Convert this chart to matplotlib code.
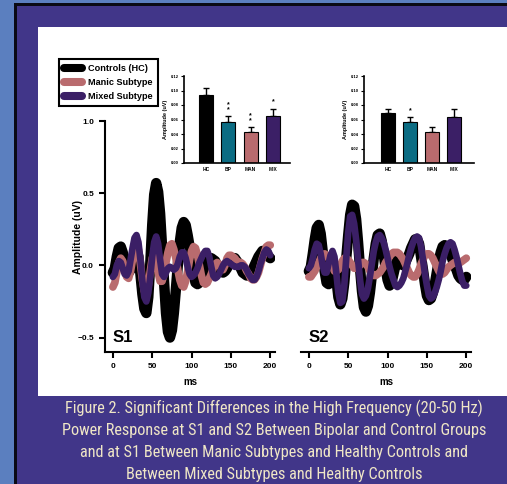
import numpy as np
import matplotlib
matplotlib.use("Agg")
import matplotlib.pyplot as plt
from matplotlib.patches import Rectangle
from matplotlib.lines import Line2D

plt.rcParams['font.family'] = ['Liberation Sans', 'DejaVu Sans']
plt.rcParams['font.weight'] = 'bold'
plt.rcParams['axes.labelweight'] = 'bold'

# waveform data (2.5 ms steps, 0..200 ms)
t_ms = np.arange(0, 200.1, 2.5)

s1_controls = [-0.05, -0.02, 0.06, 0.12, 0.13, 0.09, 0.03, -0.03, -0.05, -0.03,
               0.03, 0.08, 0.10, 0.06, -0.06, -0.20, -0.30, -0.33, -0.22, 0.01,
               0.28, 0.49, 0.57, 0.51, 0.36, 0.13, -0.11, -0.33, -0.46, -0.50,
               -0.45, -0.33, -0.17, 0.0, 0.16, 0.26, 0.30, 0.28, 0.21, 0.13,
               0.03, -0.06, -0.12, -0.13, -0.12, -0.09, -0.06, -0.02, 0.02, 0.04,
               0.05, 0.04, 0.03, 0.0, -0.03, -0.04, -0.05, -0.04, -0.02, 0.01,
               0.04, 0.05, 0.05, 0.03, 0.01, -0.02, -0.05, -0.06, -0.07, -0.07,
               -0.05, -0.03, 0.0, 0.03, 0.06, 0.08, 0.10, 0.10, 0.09, 0.06,
               0.05]
s1_manic = [-0.15, -0.12, -0.05, 0.02, 0.05, 0.03, -0.03, -0.08, -0.09, -0.04,
            0.04, 0.11, 0.14, 0.11, 0.01, -0.10, -0.18, -0.20, -0.14, -0.04,
            0.05, 0.08, 0.03, -0.05, -0.11, -0.11, -0.06, 0.02, 0.09, 0.14,
            0.15, 0.11, 0.05, -0.03, -0.10, -0.14, -0.15, -0.11, -0.04, 0.04,
            0.10, 0.13, 0.12, 0.07, 0.0, -0.07, -0.12, -0.13, -0.12, -0.09,
            -0.06, -0.02, 0.01, 0.02, 0.01, -0.02, -0.03, 0.0, 0.05, 0.07,
            0.07, 0.06, 0.05, 0.03, 0.02, 0.02, 0.01, -0.01, -0.04, -0.06,
            -0.09, -0.10, -0.10, -0.08, -0.05, 0.0, 0.05, 0.09, 0.13, 0.14,
            0.14]
s1_mixed = [-0.08, -0.06, 0.0, 0.03, 0.02, -0.02, -0.06, -0.07, -0.04, 0.04,
            0.12, 0.19, 0.21, 0.16, 0.04, -0.11, -0.22, -0.25, -0.19, -0.08,
            0.06, 0.16, 0.20, 0.15, 0.04, -0.06, -0.08, -0.05, -0.02, -0.01,
            -0.02, -0.03, -0.02, 0.01, 0.06, 0.09, 0.09, 0.05, -0.01, -0.06,
            -0.08, -0.07, -0.05, -0.02, 0.02, 0.05, 0.08, 0.10, 0.10, 0.06,
            -0.01, -0.07, -0.09, -0.08, -0.06, -0.03, 0.0, 0.02, 0.03, 0.02,
            0.01, 0.0, -0.01, -0.01, -0.01, 0.0, 0.0, -0.01, -0.03, -0.06,
            -0.08, -0.10, -0.10, -0.08, -0.04, 0.01, 0.05, 0.09, 0.11, 0.10,
            0.07]

s2_controls = [-0.04, -0.01, 0.08, 0.18, 0.26, 0.28, 0.22, 0.10, -0.04, -0.12,
               -0.13, -0.06, 0.01, 0.0, -0.10, -0.22, -0.27, -0.23, -0.12, 0.05,
               0.21, 0.35, 0.42, 0.41, 0.32, 0.16, -0.02, -0.18, -0.29, -0.32,
               -0.28, -0.19, -0.07, 0.05, 0.15, 0.21, 0.22, 0.17, 0.08, -0.02,
               -0.10, -0.14, -0.12, -0.06, 0.0, 0.04, 0.03, 0.01, 0.0, 0.02,
               0.05, 0.08, 0.12, 0.15, 0.18, 0.18, 0.15, 0.06, -0.03, -0.13,
               -0.21, -0.24, -0.23, -0.19, -0.13, -0.05, 0.03, 0.09, 0.13, 0.14,
               0.13, 0.11, 0.08, 0.04, 0.0, -0.03, -0.07, -0.09, -0.10, -0.10,
               -0.08]
s2_manic = [-0.08, -0.08, -0.06, -0.04, -0.01, 0.02, 0.05, 0.07, 0.08, 0.07,
            0.05, 0.02, -0.01, -0.04, -0.04, -0.03, 0.0, 0.03, 0.05, 0.05,
            0.04, 0.02, 0.0, -0.02, -0.02, -0.01, 0.0, 0.02, 0.02, 0.01,
            -0.01, -0.04, -0.06, -0.07, -0.07, -0.06, -0.05, -0.03, -0.01, 0.02,
            0.04, 0.06, 0.08, 0.09, 0.09, 0.09, 0.08, 0.06, 0.04, 0.01,
            -0.02, -0.05, -0.07, -0.08, -0.08, -0.06, -0.03, 0.01, 0.04, 0.07,
            0.08, 0.08, 0.07, 0.05, 0.02, -0.01, -0.04, -0.06, -0.06, -0.05,
            -0.03, -0.01, 0.0, 0.01, 0.02, 0.02, 0.02, 0.02, 0.03, 0.04,
            0.05]
s2_mixed = [-0.02, 0.0, 0.05, 0.11, 0.15, 0.14, 0.08, 0.0, -0.05, -0.05,
            0.01, 0.07, 0.10, 0.06, -0.06, -0.19, -0.26, -0.25, -0.14, 0.05,
            0.23, 0.34, 0.35, 0.29, 0.18, 0.04, -0.10, -0.20, -0.23, -0.21,
            -0.16, -0.08, 0.01, 0.10, 0.16, 0.20, 0.21, 0.19, 0.16, 0.11,
            0.05, -0.01, -0.06, -0.10, -0.14, -0.15, -0.14, -0.12, -0.09, -0.04,
            0.01, 0.07, 0.12, 0.16, 0.19, 0.20, 0.19, 0.13, 0.04, -0.06,
            -0.14, -0.21, -0.23, -0.22, -0.19, -0.15, -0.10, -0.04, 0.03, 0.08,
            0.12, 0.15, 0.16, 0.15, 0.11, 0.06, 0.0, -0.06, -0.11, -0.14,
            -0.14]

# bar insets
groups = ['HC', 'BP', 'MAN', 'MIX']
s1_bar = [0.094, 0.057, 0.043, 0.065]
s1_err = [0.009, 0.008, 0.007, 0.010]
s1_stars = ['', '*\n*', '*\n*', '*']
s2_bar = [0.069, 0.056, 0.043, 0.063]
s2_err = [0.006, 0.007, 0.007, 0.011]
s2_stars = ['', '*', '', '']

legend_labels = ['Controls (HC)', 'Manic Subtype', 'Mixed Subtype']

caption = ['Figure 2. Significant Differences in the High Frequency (20-50 Hz)',
           'Power Response at S1 and S2 Between Bipolar and Control Groups',
           'and at S1 Between Manic Subtypes and Healthy Controls and',
           'Between Mixed Subtypes and Healthy Controls']

black = '#000000'
pink = '#b96b6e'
purple = '#3b1f66'
teal = '#0b6c83'
bar_colors = [black, teal, pink, purple]

W, H = 507, 484
fig = plt.figure(figsize=(W / 100, H / 100), dpi=100)
fig.patch.set_facecolor('#5b7fbf')


def px_rect(x0, y0, x1, y1, color):
    # rectangle given in pixel coords from top-left
    r = Rectangle((x0 / W, 1 - y1 / H), (x1 - x0) / W, (y1 - y0) / H,
                  transform=fig.transFigure, facecolor=color, edgecolor='none', zorder=-10)
    fig.add_artist(r)


px_rect(14, 3, W, H, '#0a0a14')
px_rect(17, 6, W, H, '#413689')
px_rect(38, 27, W, 396, '#ffffff')


def px_axes(x0, y0, x1, y1):
    return fig.add_axes([x0 / W, 1 - y1 / H, (x1 - x0) / W, (y1 - y0) / H])


def wave_axes(ax, ctrl, manic, mixed, label, show_y):
    ax.plot(t_ms, ctrl, color=black, lw=7.5, solid_capstyle='round', solid_joinstyle='round')
    ax.plot(t_ms, manic, color=pink, lw=5.5, solid_capstyle='round', solid_joinstyle='round')
    ax.plot(t_ms, mixed, color=purple, lw=4.8, solid_capstyle='round', solid_joinstyle='round')
    ax.set_xlim(-10, 206)
    ax.set_ylim(-0.6, 1.0)
    ax.set_facecolor('none')
    for s in ['top', 'right']:
        ax.spines[s].set_visible(False)
    ax.spines['bottom'].set_linewidth(1.5)
    ax.spines['left'].set_linewidth(1.5)
    ax.set_xticks([0, 50, 100, 150, 200])
    ax.tick_params(direction='out', length=4, width=1.5, labelsize=6, pad=4)
    ax.set_xlabel('ms', fontsize=7, labelpad=5)
    ax.text(0, -0.5, label, fontsize=12, fontweight='bold', va='center', ha='left')
    if show_y:
        ax.set_yticks([-0.5, 0.0, 0.5, 1.0])
        ax.set_ylabel('Amplitude (uV)', fontsize=7.5, labelpad=-4)
    else:
        ax.spines['left'].set_visible(False)
        ax.set_yticks([])


ax1 = px_axes(105, 121, 275, 352)
wave_axes(ax1, s1_controls, s1_manic, s1_mixed, 'S1', True)
ax2 = px_axes(301, 121, 471, 352)
wave_axes(ax2, s2_controls, s2_manic, s2_mixed, 'S2', False)


def bar_axes(ax, vals, errs, stars, xlim):
    x = np.arange(len(groups))
    ax.bar(x, vals, width=0.63, color=bar_colors, edgecolor='black', linewidth=0.8, zorder=2)
    ax.errorbar(x, vals, yerr=[np.zeros(len(vals)), errs], fmt='none', ecolor='black',
                elinewidth=1, capsize=2, capthick=1, zorder=1)
    for xi, v, e, s in zip(x, vals, errs, stars):
        if s:
            ax.text(xi, v + e + 0.004, s, fontsize=5, ha='center', va='bottom', linespacing=0.6)
    ax.set_xlim(*xlim)
    ax.set_ylim(0, 0.12)
    ax.set_facecolor('none')
    for s in ['top', 'right']:
        ax.spines[s].set_visible(False)
    ax.spines['bottom'].set_linewidth(1.2)
    ax.spines['left'].set_linewidth(1.2)
    ax.set_yticks(np.arange(0, 0.121, 0.02))
    ax.set_yticklabels(['%.2f' % v for v in np.arange(0, 0.121, 0.02)])
    ax.set_xticks(x)
    ax.set_xticklabels(groups)
    ax.tick_params(axis='y', direction='out', length=2, width=0.8, labelsize=3, pad=1.5)
    ax.tick_params(axis='x', direction='out', length=0, labelsize=3.5, pad=3)
    ax.set_ylabel('Amplitude (uV)', fontsize=4, labelpad=2)


ins1 = px_axes(184, 76, 290, 163)
bar_axes(ins1, s1_bar, s1_err, s1_stars, (-0.98, 3.76))
ins2 = px_axes(364, 76, 474, 163)
bar_axes(ins2, s2_bar, s2_err, s2_stars, (-1.1, 3.9))

handles = [Line2D([], [], color=c, lw=5.8, solid_capstyle='round') for c in [black, pink, purple]]
leg = fig.legend(handles, legend_labels, loc='upper left', bbox_to_anchor=(59 / W, 1 - 59 / H),
                 borderaxespad=0, fancybox=False, edgecolor='black', framealpha=1,
                 prop={'size': 6.6, 'weight': 'bold'}, handlelength=2.0, handletextpad=0.6,
                 labelspacing=0.55, borderpad=0.55)
leg.get_frame().set_linewidth(1.5)

cap_y = [408, 430.5, 453, 475]
cap_texts = []
for line, y in zip(caption, cap_y):
    cap_texts.append(fig.text(274 / W, 1 - y / H, line, ha='center', va='center',
                              color='#efe6c6', fontsize=12, fontweight='normal',
                              family=['Liberation Sans Narrow', 'Roboto Condensed', 'Roboto']))

# fit the caption width to the reference (first line ~420 px wide)
fig.canvas.draw()
w = cap_texts[0].get_window_extent(fig.canvas.get_renderer()).width
for t in cap_texts:
    t.set_fontsize(12 * 420 / w)

fig.savefig('out.png', dpi=100, facecolor=fig.get_facecolor())
